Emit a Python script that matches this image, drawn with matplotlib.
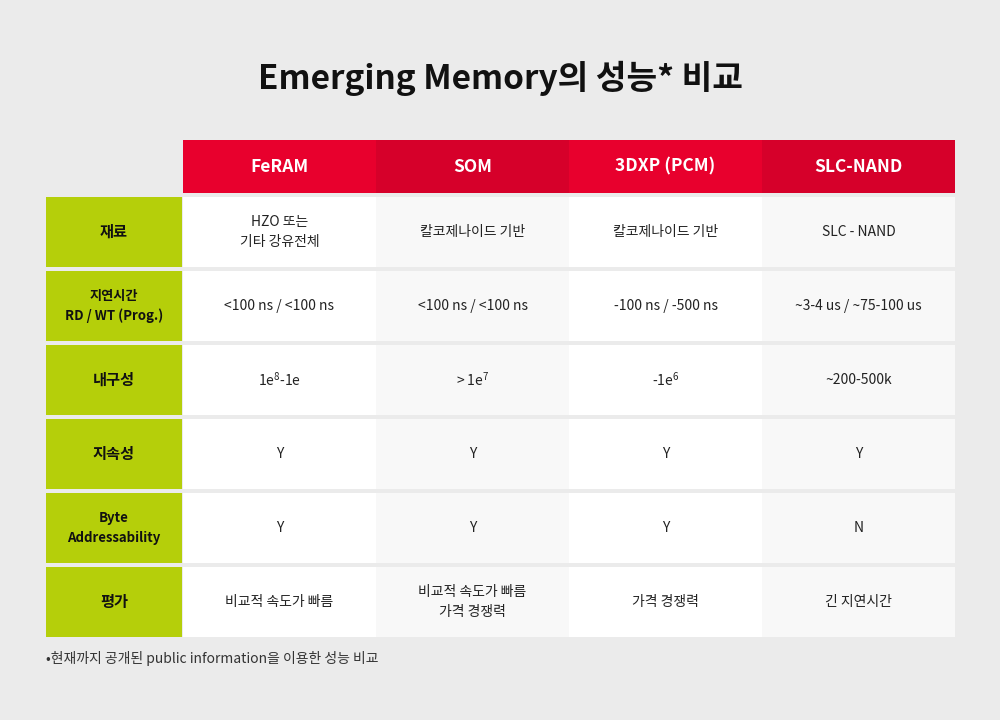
import matplotlib
matplotlib.use("Agg")
import matplotlib.pyplot as plt
from matplotlib.patches import Rectangle

plt.rcParams['font.family'] = ['Noto Sans CJK KR', 'DejaVu Sans']
plt.rcParams['mathtext.fontset'] = 'custom'
plt.rcParams['mathtext.rm'] = 'Noto Sans CJK KR'

title = "Emerging Memory의 성능* 비교"
columns = ["FeRAM", "SOM", "3DXP (PCM)", "SLC-NAND"]
row_labels = ["재료", "지연시간\nRD / WT (Prog.)", "내구성", "지속성", "Byte\nAddressability", "평가"]
cells = [
    ["HZO 또는\n기타 강유전체", "칼코제나이드 기반", "칼코제나이드 기반", "SLC - NAND"],
    ["<100 ns / <100 ns", "<100 ns / <100 ns", "-100 ns / -500 ns", "~3-4 us / ~75-100 us"],
    ["1e$^{8}$-1e", "> 1e$^{7}$", "-1e$^{6}$", "~200-500k"],
    ["Y", "Y", "Y", "Y"],
    ["Y", "Y", "Y", "N"],
    ["비교적 속도가 빠름", "비교적 속도가 빠름\n가격 경쟁력", "가격 경쟁력", "긴 지연시간"],
]
footnote = "•현재까지 공개된 public information을 이용한 성능 비교"

fig = plt.figure(figsize=(10, 7.2), dpi=100)
fig.patch.set_facecolor('#ebebeb')
ax = fig.add_axes([0, 0, 1, 1])
ax.set_xlim(0, 1000); ax.set_ylim(720, 0); ax.axis('off')

ax.text(500, 78, title, ha='center', va='center', fontsize=24, fontweight='bold', color='#111111')

col_x = [183, 376, 569, 762]
col_w = 193
hdr_y, hdr_h = 140, 53
hdr_colors = ['#e8002d', '#d6002a']
for j, c in enumerate(columns):
    ax.add_patch(Rectangle((col_x[j], hdr_y), col_w, hdr_h, color=hdr_colors[j % 2], lw=0))
    ax.text(col_x[j] + col_w / 2, hdr_y + hdr_h / 2, c, ha='center', va='center',
            fontsize=12.5, fontweight='bold', color='white')

row_y0, row_h, gap = 197, 70, 4
cell_colors = ['#ffffff', '#f8f8f8']
for i, lab in enumerate(row_labels):
    y = row_y0 + i * (row_h + gap)
    ax.add_patch(Rectangle((46, y), 136, row_h, color='#b5cf0a', lw=0))
    fs = 9.5 if '\n' in lab else 11
    ax.text(114, y + row_h / 2, lab, ha='center', va='center', fontsize=fs,
            fontweight='bold', color='#111111', linespacing=1.5)
    for j in range(4):
        ax.add_patch(Rectangle((col_x[j], y), col_w, row_h, color=cell_colors[j % 2], lw=0))
        ax.text(col_x[j] + col_w / 2, y + row_h / 2, cells[i][j], ha='center', va='center',
                fontsize=10, color='#222222', linespacing=1.5)

ax.text(46, 658, footnote, ha='left', va='center', fontsize=10, color='#333333')
fig.savefig('out.png', dpi=100, facecolor=fig.get_facecolor())
